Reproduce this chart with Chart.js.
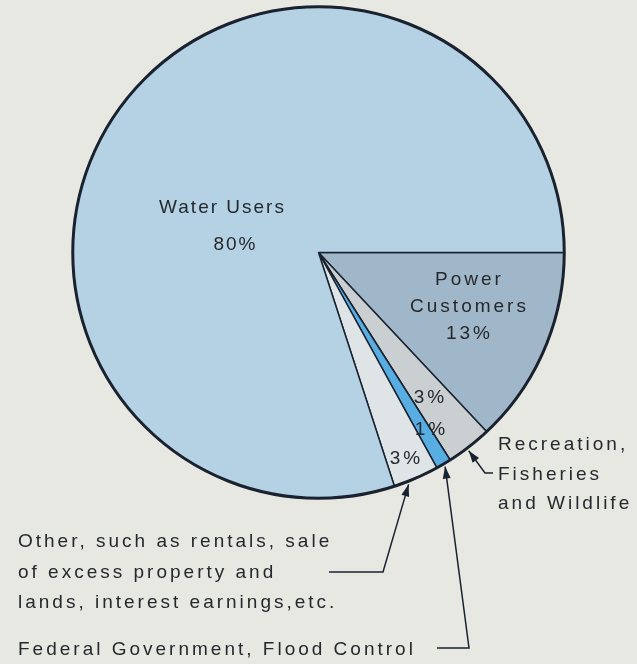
<!DOCTYPE html>
<html>
<head>
<meta charset="utf-8">
<script src="https://cdn.jsdelivr.net/npm/chart.js@4.4.1/dist/chart.umd.min.js"></script>
<style>
  html, body { margin: 0; padding: 0; background: #e7e8e2; }
  canvas { display: block; }
</style>
</head>
<body>
<canvas id="pieChart" width="637" height="664"></canvas>
<script>
// slices, clockwise from 3 o'clock
const categories = ['Power Customers', 'Recreation, Fisheries and Wildlife', 'Federal Government, Flood Control', 'Other', 'Water Users'];
const shares = [13, 3, 1, 3, 80];
const sliceColors = ['#a0b7c9', '#cad0d2', '#58aee3', '#dfe5e6', '#b4d2e3'];

// names written inside the slices (the % comes from shares)
const insideNames = [['Power', 'Customers'], [], [], [], ['Water Users']];

// callout text outside the pie
const calloutLines = [
  null,
  ['Recreation,', 'Fisheries', 'and Wildlife'],
  ['Federal Government, Flood Control'],
  ['Other, such as rentals, sale', 'of excess property and', 'lands, interest earnings,etc.'],
  null
];

const textColor = '#25292d';
const lineColor = '#1a2230';
const labelFont = '19px "Liberation Sans", Arial, sans-serif';

// label placement relative to pie centre
const insideLayout = [
  { dx: 151, dy: 32, gap: 27, pctDx: 0, spacing: 3 },
  { dx: 112, dy: 150, spacing: 3 },
  { dx: 113, dy: 182, spacing: 3 },
  { dx: 88, dy: 211, spacing: 3 },
  { dx: -96, dy: -40, gap: 37, pctDx: 13, spacing: 2 }
];

// callout placement (page coords), tipAt = where along the slice the arrow points
const calloutLayout = [
  null,
  { x: 498, y: 450, gap: 29.5, tipAt: 0.56, knee: [485, 473], end: [493, 473] },
  { x: 18, y: 655, gap: 0, tipAt: 0.5, knee: [469, 648], end: [437, 648] },
  { x: 18, y: 547, gap: 30.5, tipAt: 0.7, knee: [383, 572], end: [329, 572] },
  null
];

function drawArrow(ctx, pts) {
  ctx.beginPath();
  ctx.moveTo(pts[0][0], pts[0][1]);
  for (let i = 1; i < pts.length; i++) ctx.lineTo(pts[i][0], pts[i][1]);
  ctx.lineWidth = 1.5;
  ctx.strokeStyle = lineColor;
  ctx.stroke();
  // head at last point
  const a = pts[pts.length - 2], b = pts[pts.length - 1];
  const len = Math.hypot(b[0] - a[0], b[1] - a[1]);
  const ux = (b[0] - a[0]) / len, uy = (b[1] - a[1]) / len;
  const bx = b[0] - ux * 12, by = b[1] - uy * 12;
  ctx.beginPath();
  ctx.moveTo(b[0], b[1]);
  ctx.lineTo(bx - uy * 4, by + ux * 4);
  ctx.lineTo(bx + uy * 4, by - ux * 4);
  ctx.closePath();
  ctx.fillStyle = lineColor;
  ctx.fill();
}

const annotatePie = {
  id: 'annotatePie',
  afterDatasetsDraw(chart) {
    const ctx = chart.ctx;
    const arcs = chart.getDatasetMeta(0).data;
    const cx = arcs[0].x, cy = arcs[0].y, r = arcs[0].outerRadius;
    ctx.save();

    // heavier rim
    ctx.beginPath();
    ctx.arc(cx, cy, r, 0, Math.PI * 2);
    ctx.lineWidth = 3;
    ctx.strokeStyle = lineColor;
    ctx.stroke();

    ctx.font = labelFont;
    ctx.fillStyle = textColor;
    ctx.textBaseline = 'alphabetic';

    // inside labels
    ctx.textAlign = 'center';
    shares.forEach((v, i) => {
      const lay = insideLayout[i];
      const names = insideNames[i];
      ctx.letterSpacing = lay.spacing + 'px';
      let y = cy + lay.dy;
      names.forEach(n => {
        ctx.fillText(n, cx + lay.dx, y);
        y += lay.gap;
      });
      ctx.fillText(v + '%', cx + lay.dx + (names.length ? lay.pctDx : 0), y);
    });

    // callouts
    ctx.textAlign = 'left';
    ctx.letterSpacing = '3px';
    calloutLines.forEach((lines, i) => {
      if (!lines) return;
      const lay = calloutLayout[i];
      lines.forEach((t, k) => {
        ctx.fillStyle = textColor;
        ctx.fillText(t, lay.x, lay.y + k * lay.gap);
      });
      const arc = arcs[i];
      const ang = arc.startAngle + (arc.endAngle - arc.startAngle) * lay.tipAt;
      const tip = [cx + Math.cos(ang) * (r + 3), cy + Math.sin(ang) * (r + 3)];
      drawArrow(ctx, [lay.end, lay.knee, tip]);
    });

    ctx.restore();
  }
};

new Chart(document.getElementById('pieChart'), {
  type: 'pie',
  data: {
    labels: categories,
    datasets: [{
      data: shares,
      backgroundColor: sliceColors,
      borderColor: lineColor,
      borderWidth: 1.5
    }]
  },
  options: {
    responsive: false,
    animation: false,
    events: [],
    rotation: 90,
    layout: { padding: { left: 72, right: 72, top: 6, bottom: 165 } },
    plugins: {
      legend: { display: false },
      tooltip: { enabled: false }
    }
  },
  plugins: [annotatePie]
});
</script>
</body>
</html>
